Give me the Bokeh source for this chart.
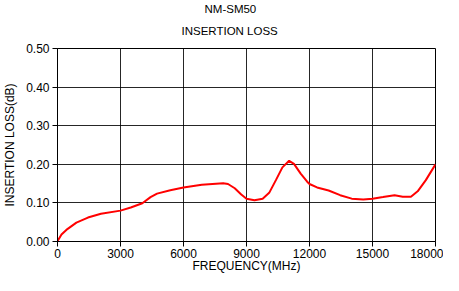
from bokeh.plotting import figure
from bokeh.models import Range1d, FixedTicker, NumeralTickFormatter, Title
from bokeh.embed import file_html
from bokeh.resources import INLINE

freq_mhz = [0, 190, 420, 900, 1450, 2070, 3000, 3490, 4040, 4430, 4740, 5370, 6000,
            6870, 7890, 8120, 8440, 8750, 9000, 9380, 9770, 10080, 10400, 10710, 11030,
            11260, 11580, 11890, 12000, 12360, 12910, 13460, 14010, 14560, 15000, 15500,
            16050, 16440, 16830, 17150, 17540, 18000]
loss_db = [0.001, 0.018, 0.030, 0.049, 0.062, 0.072, 0.080, 0.088, 0.099, 0.115, 0.124, 0.133, 0.140,
           0.147, 0.151, 0.149, 0.138, 0.122, 0.111, 0.107, 0.111, 0.126, 0.159, 0.192, 0.209,
           0.201, 0.176, 0.155, 0.149, 0.140, 0.132, 0.120, 0.111, 0.109, 0.111, 0.115,
           0.120, 0.116, 0.116, 0.130, 0.159, 0.200]
x_ticks = [0, 3000, 6000, 9000, 12000, 15000, 18000]
y_ticks = [0.0, 0.1, 0.2, 0.3, 0.4, 0.5]

FONT = "Liberation Sans"

p = figure(width=443, height=275, output_backend="svg", toolbar_location=None,
           x_range=Range1d(0, 18000), y_range=Range1d(0, 0.5),
           min_border_left=55, min_border_right=8, min_border_bottom=0, min_border_top=0)

p.title = None
t2 = Title(text="INSERTION LOSS", align="left", vertical_align="top", text_font=FONT,
           text_font_size="11.5px", text_font_style="normal", text_color="black",
           offset=124, standoff=20)
t1 = Title(text="NM-SM50", align="left", text_font=FONT, text_font_size="11.5px",
           text_font_style="normal", text_color="black", offset=147, standoff=0)
p.add_layout(t2, "above")
p.add_layout(t1, "above")

p.line(freq_mhz, loss_db, line_color="red", line_width=2)

p.xaxis.ticker = FixedTicker(ticks=x_ticks)
p.yaxis.ticker = FixedTicker(ticks=y_ticks)
p.yaxis.formatter = NumeralTickFormatter(format="0.00")
p.xaxis.formatter = NumeralTickFormatter(format="0")
p.xaxis.axis_label = "FREQUENCY(MHz)"
p.yaxis.axis_label = "INSERTION LOSS(dB)"
for ax in (p.xaxis, p.yaxis):
    ax.axis_label_text_font = FONT
    ax.axis_label_text_font_size = "12px"
    ax.axis_label_text_font_style = "normal"
    ax.axis_label_text_color = "black"
    ax.major_label_text_font = FONT
    ax.major_label_text_font_size = "12px"
    ax.major_label_text_color = "black"
    ax.axis_line_color = "black"
    ax.major_tick_line_color = "black"
    ax.major_tick_out = 5
    ax.major_tick_in = 0
    ax.minor_tick_line_color = None
p.xaxis.major_label_standoff = 2
p.xaxis.axis_label_standoff = -2
p.yaxis.major_label_standoff = 3
p.yaxis.axis_label_standoff = 6

p.grid.grid_line_color = "black"
p.grid.grid_line_alpha = 0.85
p.grid.grid_line_width = 1
p.outline_line_color = "black"
p.background_fill_color = "white"
p.border_fill_color = "white"

open("out.html", "w").write(file_html(p, INLINE))
